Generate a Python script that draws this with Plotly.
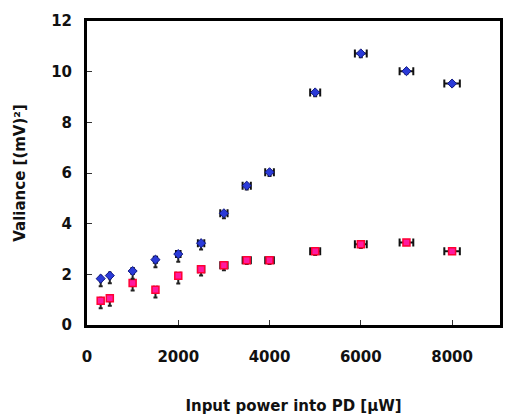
import plotly.graph_objects as go

power = [300, 500, 1000, 1500, 2000, 2500, 3000, 3500, 4000, 5000, 6000, 7000, 8000]
var_blue = [1.83, 1.95, 2.13, 2.58, 2.80, 3.23, 4.41, 5.50, 6.03, 9.18, 10.72, 10.02, 9.53]
var_red = [0.96, 1.06, 1.66, 1.39, 1.94, 2.20, 2.36, 2.56, 2.56, 2.91, 3.19, 3.26, 2.91]
err_x = [10, 15, 25, 35, 50, 70, 80, 90, 95, 110, 130, 150, 170]
err_y_minus = [0.3, 0.3, 0.3, 0.3, 0.3, 0.25, 0.2, 0.15, 0.15, 0.15, 0.15, 0.1, 0.1]

x_ticks = [0, 2000, 4000, 6000, 8000]
y_ticks = [0, 2, 4, 6, 8, 10, 12]

errx = dict(type="data", array=err_x, color="#111", thickness=2, width=4)
erry = dict(type="data", symmetric=False, array=[0] * len(power),
            arrayminus=err_y_minus, color="#222", thickness=2, width=2)

fig = go.Figure()
fig.add_trace(go.Scatter(
    x=power, y=var_red, mode="markers",
    marker=dict(symbol="square", size=7, color="#ff1aa0",
                line=dict(color="#ff0033", width=1.5)),
    error_x=errx, error_y=erry, showlegend=False))
fig.add_trace(go.Scatter(
    x=power, y=var_blue, mode="markers",
    marker=dict(symbol="diamond", size=7, color="#2a3ad8",
                line=dict(color="#101880", width=1)),
    error_x=errx, error_y=erry, showlegend=False))

fig.update_layout(
    width=505, height=415,
    margin=dict(l=87, r=2, t=21, b=89),
    paper_bgcolor="white", plot_bgcolor="white",
    font=dict(family="DejaVu Sans", size=15, color="#111"),
    xaxis=dict(range=[0, 9050], tickvals=x_ticks, ticks="inside", ticklen=5,
               tickcolor="#333", showgrid=False, zeroline=False,
               showline=True, linecolor="black", linewidth=3, mirror=True,
               ticklabelstandoff=16,
               tickfont=dict(family="DejaVu Sans", size=15, weight="bold"),
               title=dict(text="Input power into PD [µW]", standoff=36,
                          font=dict(family="DejaVu Sans", size=15, weight="bold"))),
    yaxis=dict(range=[0, 12], tickvals=y_ticks, ticks="inside", ticklen=5,
               tickcolor="#333", showgrid=False, zeroline=False,
               showline=True, linecolor="black", linewidth=3, mirror=True,
               ticklabelstandoff=9,
               tickfont=dict(family="DejaVu Sans", size=15, weight="bold"),
               title=dict(text="Valiance [(mV)²]", standoff=22,
                          font=dict(family="DejaVu Sans", size=15, weight="bold"))),
)
fig.write_html("out.html")
